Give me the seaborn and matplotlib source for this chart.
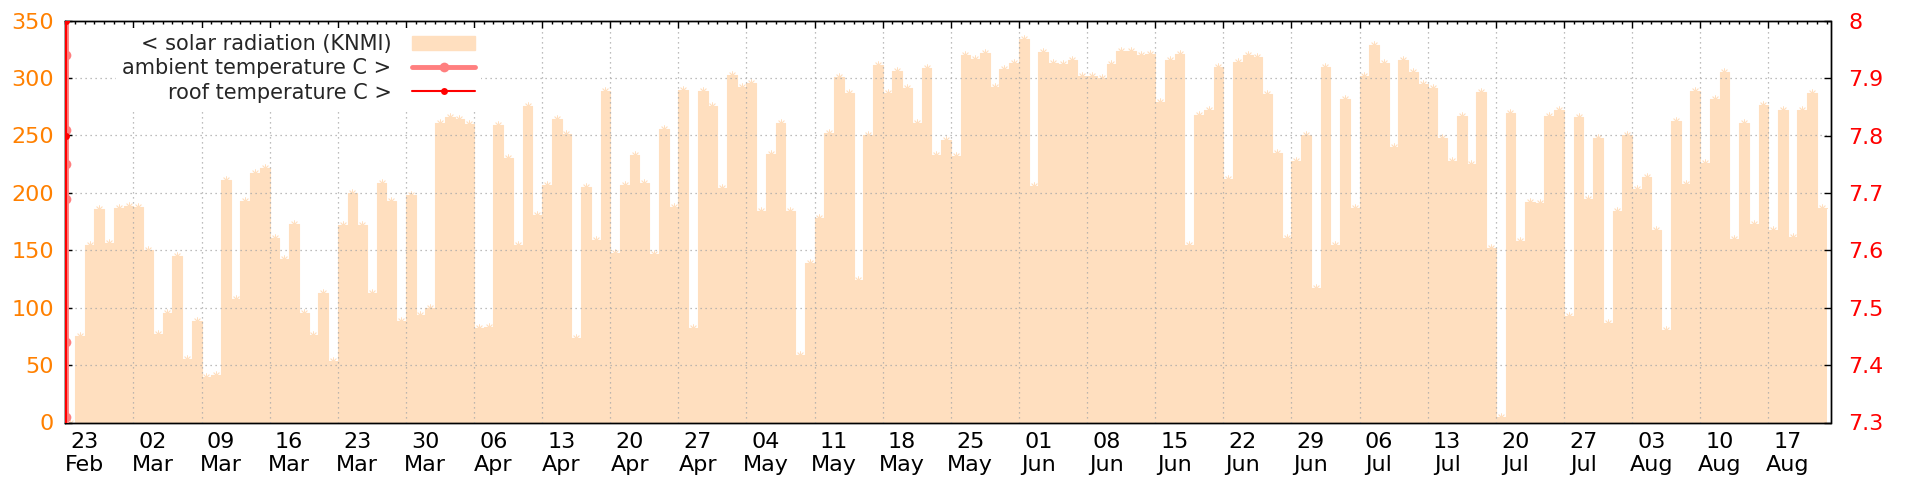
import numpy as np
import pandas as pd
import matplotlib
matplotlib.use("Agg")
import matplotlib.pyplot as plt
import matplotlib.dates as mdates
from matplotlib.ticker import FixedLocator, FuncFormatter, MultipleLocator, NullFormatter
from matplotlib.patches import Patch
from matplotlib.lines import Line2D
import seaborn as sns

# daily solar radiation (KNMI), one value per day from 21 Feb on
start_day = "2023-02-21"
radiation = [
    0, 75, 155, 186, 156, 187, 189, 188, 150, 77,
    95, 145, 55, 88, 40, 41, 211, 108, 193, 217,
    222, 161, 142, 173, 95, 76, 113, 54, 172, 200,
    172, 113, 209, 193, 88, 198, 94, 100, 261, 266,
    264, 260, 82, 83, 259, 230, 155, 276, 181, 207,
    264, 251, 74, 205, 159, 289, 148, 207, 233, 209,
    147, 256, 188, 290, 82, 289, 276, 204, 303, 292,
    296, 184, 234, 261, 184, 59, 139, 178, 252, 301,
    287, 124, 250, 311, 287, 306, 291, 261, 309, 233,
    246, 232, 320, 317, 322, 292, 308, 313, 334, 206,
    323, 313, 312, 316, 302, 302, 300, 312, 324, 324,
    320, 321, 279, 316, 321, 155, 268, 272, 310, 212,
    314, 320, 318, 286, 235, 161, 228, 250, 117, 310,
    155, 282, 187, 302, 329, 313, 240, 316, 305, 295,
    291, 248, 228, 267, 225, 288, 152, 5, 270, 158,
    192, 191, 267, 272, 93, 266, 195, 248, 87, 184,
    250, 203, 214, 168, 81, 263, 208, 289, 226, 282,
    305, 160, 261, 173, 277, 168, 272, 162, 272, 287,
    187,
]

# temperature samples, all logged at the very start of the period
temp_time = "2023-02-21 02:00"
ambient_temp = [8.3, 7.94, 7.81, 7.75, 7.69, 7.44, 7.31, 7.1]
roof_temp = [8.0, 7.8, 7.1]

# x axis: labelled days and the (offset) weekly grid
label_days = pd.date_range("2023-02-23", "2023-08-17", freq="7D")
grid_days = pd.date_range("2023-02-28", "2023-08-21", freq="7D")
x_end = pd.Timestamp("2023-08-21 09:30")

peach = "#ffdfbf"
orange = "#ff8000"
red = "#ff0000"
light_red = "#ff7f7f"

sns.set_theme(style="white")
plt.rcParams["font.family"] = ["DejaVu Sans"]
plt.rcParams["font.size"] = 15

days = pd.date_range(start_day, periods=len(radiation) + 1, freq="D")
rad_steps = radiation + [radiation[-1]]
df = pd.DataFrame({"day": days, "rad": rad_steps})

fig = plt.figure(figsize=(19.2, 4.8), dpi=100)
ax = fig.add_axes([65.3 / 1920, 1 - 422.5 / 480, (1830.5 - 65.3) / 1920, (422.5 - 20.7) / 480])

ax.fill_between(df["day"], df["rad"], step="post", color=peach, lw=0, zorder=1)
sns.lineplot(data=df, x="day", y="rad", drawstyle="steps-post", color=peach, lw=0.8, ax=ax, zorder=1)
# little spark marks on top of each day
mid = df.iloc[:-1].copy()
mid["day"] = mid["day"] + pd.Timedelta(hours=12)
sns.scatterplot(data=mid, x="day", y="rad", marker=(8, 2, 0), s=28, color=peach,
                linewidth=0.6, ax=ax, zorder=1)

ax.set_xlim(pd.Timestamp(start_day), x_end)
ax.set_ylim(0, 350)
ax.set_xlabel("")
ax.set_ylabel("")
ax.yaxis.set_major_locator(MultipleLocator(50))

label_set = set(d.date() for d in label_days)


def day_label(v, pos):
    d = mdates.num2date(v).date()
    if d in label_set:
        return d.strftime("%d\n%b")
    return ""


ax.xaxis.set_major_locator(FixedLocator(mdates.date2num(grid_days)))
ax.xaxis.set_major_formatter(NullFormatter())
ax.xaxis.set_minor_locator(mdates.DayLocator())
ax.xaxis.set_minor_formatter(FuncFormatter(day_label))

ax.tick_params(axis="x", which="major", direction="in", length=5, width=1, top=True, color="black")
ax.tick_params(axis="x", which="minor", direction="in", length=2.5, width=1, top=True,
               color="black", labelsize=16, pad=7, labelcolor="black")
ax.tick_params(axis="y", which="major", direction="in", length=5, width=1, left=True,
               color="black", labelsize=16, labelcolor=orange, pad=8)

ax.set_axisbelow(False)
ax.grid(True, which="major", color="#a8a8a8", linestyle=(0, (1, 3)), lw=0.9)
for s in ax.spines.values():
    s.set_color("black")
    s.set_linewidth(1)

ax2 = ax.twinx()
ax2.set_ylim(7.3, 8.0)
ax2.yaxis.set_major_locator(MultipleLocator(0.1))
ax2.yaxis.set_major_formatter(FuncFormatter(lambda v, pos: f"{v:g}"))
ax2.tick_params(axis="y", direction="in", length=5, width=1, right=True, color="black",
                labelsize=16, labelcolor=red, pad=13)
ax2.grid(False)

amb = pd.DataFrame({"t": pd.to_datetime([temp_time] * len(ambient_temp)), "v": ambient_temp})
roof = pd.DataFrame({"t": pd.to_datetime([temp_time] * len(roof_temp)), "v": roof_temp})
sns.lineplot(data=amb, x="t", y="v", sort=False, estimator=None, color=light_red, lw=3.5,
             marker="o", markersize=7, markeredgewidth=0, ax=ax2, zorder=3)
sns.lineplot(data=roof, x="t", y="v", sort=False, estimator=None, color=red, lw=1.5,
             marker="o", markersize=5, markeredgewidth=0, ax=ax2, zorder=4)
ax2.set_xlabel("")
ax2.set_ylabel("")
for s in ax2.spines.values():
    s.set_color("black")
    s.set_linewidth(1)

handles = [
    Patch(facecolor=peach, edgecolor=peach),
    Line2D([0], [0], color=light_red, lw=3.5, marker="o", markersize=7, markeredgewidth=0),
    Line2D([0], [0], color=red, lw=1.5, marker="o", markersize=5, markeredgewidth=0),
]
labels = ["< solar radiation (KNMI)", "ambient temperature C >", "roof temperature C >"]
leg = ax2.legend(handles, labels, loc="upper right", bbox_to_anchor=(481 / 1920, 1 - 28 / 480),
                 bbox_transform=fig.transFigure, markerfirst=False, frameon=True, fontsize=15,
                 handlelength=3.0, handletextpad=1.0, labelspacing=0.2, borderpad=0.3,
                 borderaxespad=0, fancybox=False)
leg.get_frame().set_facecolor("white")
leg.get_frame().set_edgecolor("none")
leg.get_frame().set_alpha(1)

fig.savefig("out.png", dpi=100)
